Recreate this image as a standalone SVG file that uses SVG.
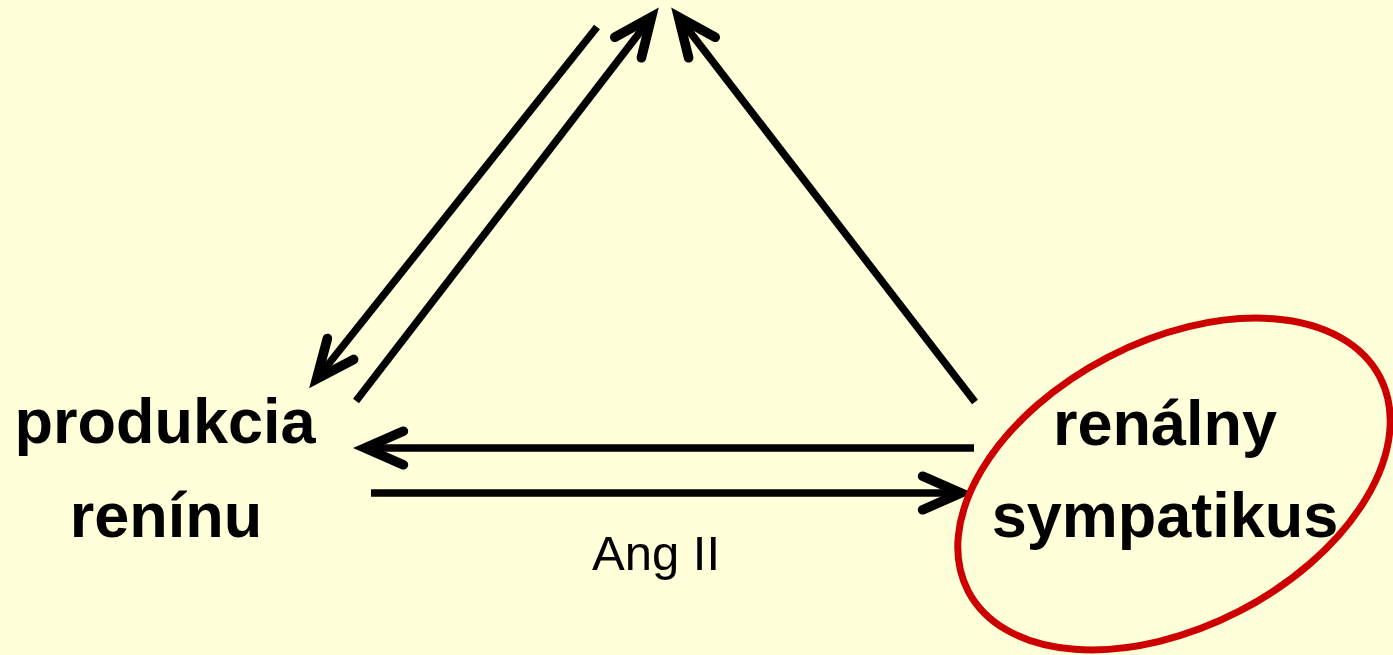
<svg xmlns="http://www.w3.org/2000/svg" width="1393" height="655" viewBox="0 0 1393 655">
<style>
.bg{fill:#FFFFD9}
.conn{stroke:#000;stroke-width:7.5;fill:none}
.lbl{font-family:"Liberation Sans",Arial,sans-serif;font-weight:bold;font-size:63px;fill:#000;text-anchor:middle}
.small{font-family:"Liberation Sans",Arial,sans-serif;font-size:49px;fill:#000;text-anchor:middle}
.ring{fill:none;stroke:#CC0000;stroke-width:7}
</style>
<defs>
<marker id="ah" markerUnits="userSpaceOnUse" markerWidth="60" markerHeight="60" viewBox="-40 -25 50 50" refX="0" refY="0" orient="auto" overflow="visible">
<path d="M-32,-14 L0,0 L-32,14" fill="none" stroke="#000" stroke-width="8" stroke-linecap="round" stroke-linejoin="miter"/>
</marker>
</defs>
<rect class="bg" x="0" y="0" width="1393" height="655"/>
<g id="connectors">
<line class="conn" x1="597" y1="27" x2="316.6" y2="379" marker-end="url(#ah)"/>
<line class="conn" x1="356" y1="401" x2="651.5" y2="17.1" marker-end="url(#ah)"/>
<line class="conn" x1="975" y1="402" x2="678.5" y2="17.1" marker-end="url(#ah)"/>
<line class="conn" x1="974" y1="448" x2="365" y2="448" marker-end="url(#ah)"/>
<line class="conn" x1="371" y1="493" x2="961" y2="493" marker-end="url(#ah)"/>
<text class="small" x="656" y="570">Ang II</text>
</g>
<g id="produkcia-reninu">
<text class="lbl" x="165" y="443">produkcia</text>
<text class="lbl" x="166" y="537">renínu</text>
</g>
<g id="renalny-sympatikus">
<ellipse class="ring" cx="1174" cy="484" rx="232" ry="143" transform="rotate(-27.4 1174 484)"/>
<text class="lbl" x="1165" y="445">renálny</text>
<text class="lbl" x="1165" y="537">sympatikus</text>
</g>
</svg>
